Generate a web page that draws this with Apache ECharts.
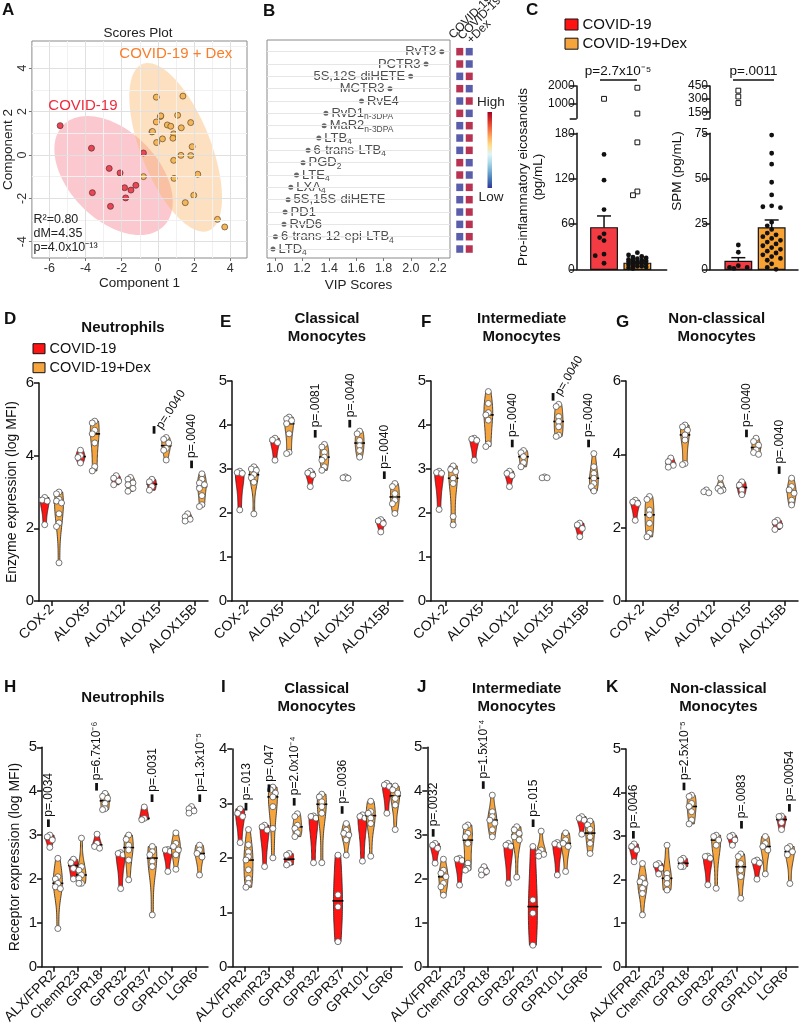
<!DOCTYPE html>
<html>
<head>
<meta charset="utf-8">
<title>Eicosanoid and SPM profiles</title>
<script src="https://cdn.jsdelivr.net/npm/echarts@6.0.0/dist/echarts.min.js"></script>
<style>
  html, body { margin: 0; padding: 0; background: #fff; }
  #chart { width: 800px; height: 1034px; }
</style>
</head>
<body>
<div id="chart"></div>
<script>
// ---------- A: PLS-DA scores ----------
const scoresCovid = [[-5.40, 1.35], [-3.67, 0.31], [-3.62, -1.74], [-2.69, -0.62], [-2.62, -2.37], [-2.09, -0.83],
  [-1.84, -1.51], [-1.78, -1.98], [-1.49, -1.62], [-1.22, -1.40], [-0.80, 0.09]];
const scoresDex = [[-0.80, -1.00], [-0.09, 2.66], [0.14, 1.77], [0.16, 1.80], [-0.09, 1.52], [-0.33, 1.06], [-0.30, 1.08],
  [-0.07, 0.57], [0.25, 0.74], [0.52, 1.38], [0.71, 1.32], [0.87, 0.97], [0.83, 0.77], [1.09, 1.83], [1.38, 2.71],
  [1.29, 1.25], [1.81, 1.49], [1.89, 0.38], [1.81, -0.03], [1.27, -0.02], [0.87, -0.25], [0.89, -1.08], [2.20, -0.89],
  [1.98, -1.86], [1.51, -2.20], [3.29, -2.97], [3.69, -3.32]];
// centre x, centre y, first half-axis (x, y), second half-axis (x, y)
const ellipseCovid = [-2.45, -0.95, 3.27, -1.21, 0, 2.46];
const ellipseDex = [0.98, 0.35, 2.56, -2.33, 0, 3.11];
const scoreTicksX = [-6, -4, -2, 0, 2, 4];
const scoreTicksY = [-4, -2, 0, 2, 4];
const scoreMinorX = [-5, -3, -1, 1, 3];
const scoreMinorY = [-3, -1, 1, 3, 5];

// ---------- B: VIP scores ----------
const vipNames = ['RvT3', 'PCTR3', '5S,12S-diHETE', 'MCTR3', 'RvE4', 'RvD1', 'MaR2', 'LTB', '6-trans-LTB', 'PGD',
  'LTE', 'LXA', '5S,15S-diHETE', 'PD1', 'RvD6', '6-trans-12-epi-LTB', 'LTD'];
const vipSubs = ['', '', '', '', '', 'n-3DPA', 'n-3DPA', '4', '4', '2', '4', '4', '', '', '', '4', '4'];
const vipScores = [2.228, 2.112, 1.999, 1.847, 1.638, 1.376, 1.363, 1.324, 1.245, 1.208, 1.160, 1.118, 1.098, 1.076,
  1.068, 1.005, 0.987];
const vipTicks = [1.0, 1.2, 1.4, 1.6, 1.8, 2.0, 2.2];
const heatGroups = ['COVID-19', 'COVID-19+Dex'];
// relative level per mediator: [COVID-19, COVID-19+Dex]
const vipHeat = [[1, 0], [1, 0], [0, 1], [1, 0], [0, 1], [1, 0], [0, 1], [0, 1], [0, 1], [1, 0], [1, 0], [0, 1], [0, 1],
  [0, 1], [0, 1], [0, 1], [0, 1]];

// ---------- C: plasma mediators ----------
const proMean = [55, 8];
const proSem = [15.6, 1.6];
const proCovidDots = [152, 118, 79, 47, 42, 38, 20, 18, 8];
const proDexDots = [22, 19, 17, 16, 15, 14, 13, 12, 12, 11, 10, 10, 9, 8, 7, 7, 6, 5, 4, 4, 3, 2, 1];
const proCovidOut = [1266];
const proDexOut = [1900, 422, 168, 103, 98];
const spmMean = [4.4, 22.8];
const spmSem = [2.0, 4.4];
const spmCovidDots = [13.4, 9.4, 2, 1, 1, 0.5];
const spmDexDots = [74, 64, 58, 48, 41, 35, 34.5, 34, 26, 24, 22, 20, 19, 18, 17, 16, 15, 14, 13, 12, 11, 10, 9, 8, 7,
  6, 5, 3, 1, 0];
const spmCovidOut = [397, 329, 255];
const spmDexOut = [];

// ---------- D-G: enzymes ----------
const enzymeCats = ['COX-2', 'ALOX5', 'ALOX12', 'ALOX15', 'ALOX15B'];
const neuEnzCovid = [[2.85, 2.78, 2.75, 2.1], [4.15, 4.0, 3.95, 3.8], [3.45, 3.38, 3.3, 3.2], [3.35, 3.28, 3.15, 3.05], [2.4, 2.32, 2.25, 2.2]];
const neuEnzDex = [[3.0, 2.95, 2.8, 2.75, 2.7, 2.4, 2.15, 2.05, 1.05], [4.95, 4.9, 4.7, 4.6, 4.35, 3.7, 3.58],
  [3.4, 3.35, 3.25, 3.2, 3.1, 3.02], [4.5, 4.45, 4.35, 4.2, 4.15, 3.88], [3.5, 3.35, 3.25, 3.2, 3.1, 2.9, 2.65, 2.6]];
const neuEnzP = ['p=.0040', 'p=.0040'];
const claEnzCovid = [[2.95, 2.92, 2.9, 2.07], [3.7, 3.66, 3.6, 3.2], [2.95, 2.91, 2.86, 2.6], [2.82, 2.8, 2.79], [1.85, 1.82, 1.76, 1.57]];
const claEnzDex = [[3.05, 3.0, 2.97, 2.87, 2.8, 2.7, 1.98], [4.18, 4.14, 4.1, 4.03, 3.8, 3.38, 3.35],
  [3.56, 3.5, 3.38, 3.27, 3.2, 3.05, 2.97], [3.86, 3.8, 3.65, 3.53, 3.42, 3.27], [2.67, 2.6, 2.44, 2.29, 2.21, 1.99]];
const claEnzP = ['p=.0081', 'p=.0040', 'p=.0040'];
const intEnzCovid = [[2.95, 2.92, 2.9, 2.08], [3.7, 3.68, 3.65, 3.2], [2.95, 2.9, 2.85, 2.6], [2.82, 2.8, 2.8], [1.77, 1.73, 1.65, 1.46]];
const intEnzDex = [[3.07, 2.99, 2.94, 2.79, 2.67, 1.92, 1.73], [4.76, 4.49, 4.28, 4.23, 4.11, 3.57, 3.51],
  [3.42, 3.37, 3.28, 3.14, 3.05], [4.47, 4.42, 4.19, 4.08, 3.96, 3.77, 3.74], [3.35, 3.05, 2.9, 2.79, 2.67, 2.6, 2.5]];
const intEnzP = ['p=.0040', 'p=.0040', 'p=.0040'];
const nclEnzCovid = [[2.75, 2.7, 2.66, 2.2], [3.9, 3.8, 3.7, 3.65], [3.03, 2.98, 2.95], [3.25, 3.16, 3.03, 2.9], [2.2, 2.15, 2.05, 1.95]];
const nclEnzDex = [[2.85, 2.77, 2.48, 2.35, 2.12, 1.85, 1.75], [4.8, 4.75, 4.66, 4.53, 4.39, 3.75, 3.72],
  [3.35, 3.16, 3.07, 3.03, 3.0], [4.44, 4.35, 4.25, 4.12, 4.05, 4.0], [3.35, 3.12, 3.03, 2.94, 2.75, 2.62]];
const nclEnzP = ['p=.0040', 'p=.0040'];

// ---------- H-K: receptors ----------
const receptorCats = ['ALX/FPR2', 'ChemR23', 'GPR18', 'GPR32', 'GPR37', 'GPR101', 'LGR6'];
const neuRecCovid = [[3.0, 2.96, 2.89, 2.72], [2.45, 2.37, 2.24, 2.0], [3.02, 2.81, 2.74, 2.7], [2.6, 2.58, 2.55, 1.78],
  [3.64, 3.38, 3.35], [2.67, 2.66, 2.63, 2.17], [3.65, 3.6, 3.55, 3.5]];
const neuRecDex = [[2.47, 2.05, 2.0, 1.9, 1.82, 1.78, 0.87], [2.93, 2.28, 2.2, 2.09, 2.01, 1.9, 1.9], [3.95, 3.88, 3.84, 3.72, 3.6, 3.58],
  [3.0, 2.9, 2.77, 2.66, 2.43, 1.98], [2.74, 2.62, 2.55, 2.4, 2.28, 1.18], [3.05, 2.81, 2.74, 2.66, 2.55, 2.22], [2.77, 2.66, 2.58, 2.5, 2.09]];
const neuRecP = ['p=.0034', 'p=6.7x10⁻⁶', 'p=.0031', 'p=1.3x10⁻⁵'];
const claRecCovid = [[2.9, 2.82, 2.76, 2.28], [2.6, 2.57, 2.51, 1.84], [2.08, 2.05, 1.9, 1.87], [2.77, 2.76, 2.73, 1.91],
  [2.05, 1.32, 1.1, 0.46], [2.79, 2.76, 2.73, 1.94], [3.37, 3.34, 3.31, 2.82]];
const claRecDex = [[2.52, 2.24, 2.11, 2.02, 1.96, 1.78, 1.62, 1.53, 1.46], [3.3, 3.25, 3.19, 3.12, 2.94, 2.54, 2.0],
  [2.81, 2.76, 2.6, 2.54, 2.46, 2.39], [3.17, 3.12, 3.03, 2.94, 2.82, 1.91], [2.63, 2.51, 2.45, 2.42, 2.33, 2.05],
  [3.04, 2.85, 2.82, 2.73, 2.63, 2.03], [3.32, 3.25, 3.19, 3.09, 2.97, 2.52]];
const claRecP = ['p=.013', 'p=.047', 'p=2.0x10⁻⁴', 'p=.0036'];
const intRecCovid = [[2.81, 2.77, 2.7, 2.36], [2.47, 2.45, 2.42, 1.86], [2.28, 2.2, 2.17, 2.09], [2.81, 2.77, 2.74, 1.9],
  [2.74, 1.52, 1.22, 0.49], [2.83, 2.8, 2.77, 2.09], [3.42, 3.38, 3.34, 3.02]];
const intRecDex = [[2.45, 2.2, 2.13, 2.05, 1.9, 1.82, 1.63], [3.23, 3.19, 3.04, 2.96, 2.81, 2.36, 2.24, 2.2],
  [3.91, 3.53, 3.42, 3.34, 3.27, 3.12, 2.96], [3.19, 3.12, 3.04, 2.96, 2.89, 2.04], [3.09, 2.66, 2.6, 2.56, 2.52],
  [3.05, 2.89, 2.81, 2.74, 2.17], [3.32, 3.23, 3.13, 2.96, 2.81, 2.58]];
const intRecP = ['p=.0032', 'p=1.5x10⁻⁴', 'p=.015'];
const nclRecCovid = [[2.82, 2.76, 2.68, 2.41], [2.37, 2.34, 2.26, 2.13], [2.49, 2.45, 2.3, 2.3], [2.54, 2.53, 2.49, 1.88],
  [3.02, 2.99, 2.91, 2.79], [2.45, 2.42, 2.38, 2.01], [3.46, 3.45, 3.31, 3.15]];
const nclRecDex = [[2.37, 2.03, 1.95, 1.91, 1.8, 1.68, 1.19], [2.79, 2.14, 2.03, 1.91, 1.76], [3.94, 3.91, 3.75, 3.68, 3.56, 3.37, 3.28],
  [3.02, 2.99, 2.91, 2.79, 1.8], [2.59, 2.53, 2.37, 2.22, 2.07, 1.57], [2.99, 2.83, 2.76, 2.68, 2.13], [2.76, 2.72, 2.64, 2.57, 1.91]];
const nclRecP = ['p=.0046', 'p=2.5x10⁻⁵', 'p=.0083', 'p=.00054'];

// ---------- styles / layout ----------
const FONT = "'Liberation Sans', Arial, Helvetica, sans-serif";
const VRED = '#ff1414';
const VORG = '#f6a43e';
const CRED = '#f23b42';
const CORG = '#f9a234';
const INK = '#111';
const HEAT = ['#313695', '#4575b4', '#74add1', '#abd9e9', '#e0f3f8', '#fee090', '#fdae61', '#f46d43', '#d73027', '#a50026'];

// violin panels: layout only; p-value marks are [x, y, rotation]
const violinPanels = [
  {grid: {left: 39, top: 383, width: 169, height: 218}, xMin: -0.36, xMax: 4.37, yMax: 6, yStep: 2, cats: enzymeCats,
    covid: neuEnzCovid, dex: neuEnzDex, pText: neuEnzP, pPos: [[2.86, 4.71, 57], [3.91, 3.76, 90]], off: 0.2, halfW: 4.4,
    yName: 'Enzyme expression (log MFI)'},
  {grid: {left: 232, top: 381, width: 171, height: 220}, xMin: -0.42, xMax: 4.43, yMax: 5, yStep: 1, cats: enzymeCats,
    covid: claEnzCovid, dex: claEnzDex, pText: claEnzP, pPos: [[1.94, 3.8, 90], [2.92, 4.03, 90], [3.9, 2.86, 90]], off: 0.2, halfW: 4.4},
  {grid: {left: 431, top: 381, width: 172, height: 220}, xMin: -0.43, xMax: 4.46, yMax: 5, yStep: 1, cats: enzymeCats,
    covid: intEnzCovid, dex: intEnzDex, pText: intEnzP, pPos: [[1.88, 3.58, 90], [3.04, 4.64, 60], [4.05, 3.58, 90]], off: 0.2, halfW: 4.4},
  {grid: {left: 626, top: 381, width: 172, height: 220}, xMin: -0.46, xMax: 4.38, yMax: 6, yStep: 2, cats: enzymeCats,
    covid: nclEnzCovid, dex: nclEnzDex, pText: nclEnzP, pPos: [[2.93, 4.57, 90], [3.85, 3.57, 90]], off: 0.2, halfW: 4.4},
  {grid: {left: 36, top: 747.3, width: 172, height: 219.4}, xMin: -0.5, xMax: 6.53, yMax: 5, yStep: 1, cats: receptorCats,
    covid: neuRecCovid, dex: neuRecDex, pText: neuRecP, pPos: [[-0.23, 3.27, 90], [1.81, 4.1, 90], [4.16, 3.84, 90], [6.18, 3.84, 90]],
    off: 0.17, halfW: 4.5, yName: 'Receptor expression (log MFI)'},
  {grid: {left: 232.3, top: 749, width: 170, height: 217.7}, xMin: -0.49, xMax: 6.46, yMax: 4, yStep: 1, cats: receptorCats,
    covid: claRecCovid, dex: claRecDex, pText: claRecP, pPos: [[0.07, 2.94, 90], [1.01, 3.28, 90], [2.04, 3.03, 90], [4.0, 2.88, 90]],
    off: 0.17, halfW: 4.5},
  {grid: {left: 427.3, top: 747.3, width: 174, height: 219.4}, xMin: -0.49, xMax: 6.63, yMax: 5, yStep: 1, cats: receptorCats,
    covid: intRecCovid, dex: intRecDex, pText: intRecP, pPos: [[-0.25, 3.05, 90], [1.8, 4.14, 90], [3.84, 3.27, 90]],
    off: 0.17, halfW: 4.5},
  {grid: {left: 626, top: 749, width: 172, height: 217.7}, xMin: -0.5, xMax: 6.5, yMax: 5, yStep: 1, cats: receptorCats,
    covid: nclRecCovid, dex: nclRecDex, pText: nclRecP, pPos: [[-0.2, 3.03, 90], [1.86, 4.14, 90], [4.2, 3.26, 90], [6.15, 3.65, 90]],
    off: 0.17, halfW: 4.5}
];

// ---------- helpers ----------
function density(vals) {
  const n = vals.length;
  const mean = vals.reduce((a, b) => a + b, 0) / n;
  const sd = Math.sqrt(vals.reduce((a, b) => a + (b - mean) * (b - mean), 0) / Math.max(n - 1, 1));
  const h = Math.max(1.06 * sd * Math.pow(n, -0.2), 0.03);
  const lo = Math.min(...vals), hi = Math.max(...vals);
  const out = [];
  for (let i = 0; i <= 40; i++) {
    const y = lo + (hi - lo) * i / 40;
    let d = 0;
    vals.forEach(v => { d += Math.exp(-0.5 * ((y - v) / h) * ((y - v) / h)); });
    out.push([y, d]);
  }
  const mx = Math.max(...out.map(o => o[1]));
  return out.map(o => [o[0], o[1] / mx]);
}

function median(vals) {
  const s = vals.slice().sort((a, b) => a - b);
  const m = Math.floor(s.length / 2);
  return s.length % 2 ? s[m] : (s[m - 1] + s[m]) / 2;
}

// simple beeswarm: horizontal pixel offsets so points do not pile up
function swarm(ys, minD, step, maxOff) {
  const order = ys.map((_, i) => i).sort((a, b) => ys[a] - ys[b]);
  const placed = [];
  const offs = new Array(ys.length).fill(0);
  order.forEach(i => {
    let best = 0, bestD = -1;
    for (let k = 0; k < 60; k++) {
      const cand = k === 0 ? 0 : (k % 2 ? -1 : 1) * Math.ceil(k / 2) * step;
      if (Math.abs(cand) > maxOff) break;
      const d = placed.length ? Math.min(...placed.map(p => Math.hypot(p[0] - cand, p[1] - ys[i]))) : Infinity;
      if (d >= minD) { best = cand; bestD = d; break; }
      if (d > bestD) { bestD = d; best = cand; }
    }
    offs[i] = best;
    placed.push([best, ys[i]]);
  });
  return offs;
}

function txt(x, y, text, size, opts) {
  const o = opts || {};
  return {
    type: 'text', x: x, y: y, rotation: o.rotation || 0, silent: true, z: 100,
    style: {
      text: text, fill: o.color || INK, fontSize: size, fontFamily: FONT, fontWeight: o.bold ? 'bold' : 'normal',
      align: o.align || 'left', verticalAlign: o.va || 'middle', textAlign: o.align || 'left',
      textVerticalAlign: o.va || 'middle', lineHeight: o.lineHeight || size * 1.2
    }
  };
}

const grids = [], xAxes = [], yAxes = [], series = [], graphics = [];

function plainAxis(extra) {
  return Object.assign({
    axisLine: {show: true, onZero: false, lineStyle: {color: INK, width: 1.5}},
    axisTick: {show: true, length: 5, lineStyle: {color: INK, width: 1.5}},
    axisLabel: {fontSize: 15, color: INK, margin: 5},
    splitLine: {show: false}
  }, extra);
}

// ---------- A ----------
grids.push({left: 29, top: 41, width: 218, height: 217, show: true, borderColor: '#8a8a8a', borderWidth: 1});
xAxes.push({gridIndex: 0, type: 'value', min: -6.96, max: 4.92, name: 'Component 1', nameLocation: 'middle', nameGap: 18,
  nameTextStyle: {fontSize: 13.5, color: '#222'},
  axisLine: {show: false, onZero: false},
  axisTick: {show: true, customValues: scoreTicksX, length: 3, lineStyle: {color: '#777'}},
  axisLabel: {customValues: scoreTicksX, fontSize: 12.5, color: '#333', margin: 4},
  splitLine: {show: false}});
yAxes.push({gridIndex: 0, type: 'value', min: -4.75, max: 5.25, name: 'Component 2', nameLocation: 'middle', nameGap: 12,
  nameTextStyle: {fontSize: 13.5, color: '#222'},
  axisLine: {show: false, onZero: false},
  axisTick: {show: true, customValues: scoreTicksY, length: 3, lineStyle: {color: '#777'}},
  axisLabel: {customValues: scoreTicksY, fontSize: 12.5, color: '#333', margin: 3, rotate: 90},
  splitLine: {show: false}});
const gridLineStyle = {silent: true, symbol: ['none', 'none'], label: {show: false}, animation: false};
series.push({type: 'scatter', xAxisIndex: 0, yAxisIndex: 0, data: [], z: 1,
  markLine: Object.assign({lineStyle: {color: '#f1f1f1', width: 1, type: 'solid'},
    data: scoreMinorX.map(v => ({xAxis: v})).concat(scoreMinorY.map(v => ({yAxis: v})))}, gridLineStyle)});
series.push({type: 'scatter', xAxisIndex: 0, yAxisIndex: 0, data: [], z: 1,
  markLine: Object.assign({lineStyle: {color: '#e0e0e0', width: 1, type: 'solid'},
    data: scoreTicksX.map(v => ({xAxis: v})).concat(scoreTicksY.map(v => ({yAxis: v})))}, gridLineStyle)});
series.push({type: 'custom', xAxisIndex: 0, yAxisIndex: 0, z: 2, silent: true,
  data: [[ellipseCovid[0], ellipseCovid[1]], [ellipseDex[0], ellipseDex[1]]],
  renderItem: function (params, api) {
    const e = params.dataIndex === 0 ? ellipseCovid : ellipseDex;
    const pts = [];
    for (let k = 0; k < 96; k++) {
      const t = k / 96 * 2 * Math.PI;
      pts.push(api.coord([e[0] + e[2] * Math.cos(t) + e[4] * Math.sin(t), e[1] + e[3] * Math.cos(t) + e[5] * Math.sin(t)]));
    }
    return {type: 'polygon', shape: {points: pts},
      style: {fill: params.dataIndex === 0 ? 'rgba(240,95,110,0.34)' : 'rgba(250,180,105,0.42)'}};
  }});
series.push({type: 'scatter', xAxisIndex: 0, yAxisIndex: 0, z: 3, data: scoresCovid, symbolSize: 6,
  itemStyle: {color: '#ea4656', borderColor: '#5a2a2a', borderWidth: 0.7, opacity: 1}});
series.push({type: 'scatter', xAxisIndex: 0, yAxisIndex: 0, z: 3, data: scoresDex, symbolSize: 6,
  itemStyle: {color: '#f5b65a', borderColor: '#5e4a2a', borderWidth: 0.7, opacity: 1}});

// ---------- B ----------
grids.push({left: 267, top: 40, width: 183, height: 218, show: true, borderColor: '#8a8a8a', borderWidth: 1});
xAxes.push({gridIndex: 1, type: 'value', min: 0.943, max: 2.288, name: 'VIP Scores', nameLocation: 'middle', nameGap: 20,
  nameTextStyle: {fontSize: 13.5, color: '#222'},
  axisLine: {show: false, onZero: false},
  axisTick: {show: true, customValues: vipTicks, length: 3, lineStyle: {color: '#777'}},
  axisLabel: {customValues: vipTicks, fontSize: 12.5, color: '#333', margin: 4, formatter: v => v.toFixed(1)},
  splitLine: {show: false}});
yAxes.push({gridIndex: 1, type: 'value', min: -0.95, max: 16.73, inverse: true, show: false, axisLine: {onZero: false}});
series.push({type: 'scatter', xAxisIndex: 1, yAxisIndex: 1, data: [], z: 1,
  markLine: Object.assign({lineStyle: {color: '#e6e6e6', width: 1, type: 'solid'},
    data: vipNames.map((_, i) => ({yAxis: i}))}, gridLineStyle)});
const vipLabelRich = {n: {fontSize: 13, color: '#222', fontFamily: FONT},
  s: {fontSize: 8.5, color: '#222', fontFamily: FONT, padding: [7, 0, 0, 0]}};
series.push({type: 'scatter', xAxisIndex: 1, yAxisIndex: 1, z: 3, symbolSize: 5,
  data: vipScores.map((v, i) => ({value: [v, i], label: {position: i < 4 ? 'left' : 'right'}})),
  itemStyle: {color: '#444'},
  label: {show: true, distance: 3, color: '#222',
    formatter: p => '{n|' + vipNames[p.dataIndex] + '}' + (vipSubs[p.dataIndex] ? '{s|' + vipSubs[p.dataIndex] + '}' : ''),
    rich: vipLabelRich}});

grids.push({left: 455, top: 45.5, width: 19, height: 209.7});
xAxes.push({gridIndex: 2, type: 'category', data: heatGroups, show: false});
yAxes.push({gridIndex: 2, type: 'category', data: vipNames, inverse: true, show: false});
const heatSeriesIndex = series.length;
const heatData = [];
vipHeat.forEach((row, r) => row.forEach((v, c) => heatData.push([c, r, v])));
series.push({type: 'scatter', xAxisIndex: 2, yAxisIndex: 2, symbol: 'rect', symbolSize: [7, 7.5], data: heatData, z: 3});

// ---------- C ----------
function cAxes(gi, left, top, width, height, xMin, xMax, yMin, yMax, yInterval, tickVals, labelVals, showX) {
  grids.push({left: left, top: top, width: width, height: height});
  xAxes.push({gridIndex: gi, type: 'value', min: xMin, max: xMax,
    axisLine: {show: showX, onZero: false, lineStyle: {color: INK, width: 1.5}},
    axisTick: {show: false}, axisLabel: {show: false}, splitLine: {show: false}});
  const y = {gridIndex: gi, type: 'value', min: yMin, max: yMax,
    axisLine: {show: true, onZero: false, lineStyle: {color: INK, width: 1.5}},
    axisTick: {show: true, length: 7, lineStyle: {color: INK, width: 1.5}},
    axisLabel: {fontSize: 12, color: INK, margin: 2, formatter: v => String(v)},
    splitLine: {show: false}};
  if (yInterval) y.interval = yInterval;
  if (tickVals) { y.axisTick.customValues = tickVals; y.axisLabel.customValues = labelVals; }
  yAxes.push(y);
}
cAxes(3, 576.7, 86, 90, 32.3, 0.18, 2.88, 150, 2000, null, [150, 1000, 2000], [1000, 2000], false);
cAxes(4, 576.7, 133.3, 90, 136, 0.18, 2.88, 0, 180, 60, null, null, true);
cAxes(5, 710, 86, 88, 32.3, 0.15, 2.79, 80, 450, null, [80, 150, 300, 450], [150, 300, 450], false);
cAxes(6, 710, 133.3, 88, 136, 0.15, 2.79, 0, 75, 25, null, null, true);

function cBarSeries(gi, means, sems) {
  series.push({type: 'custom', xAxisIndex: gi, yAxisIndex: gi, z: 2, silent: true,
    data: means.map((m, i) => [i + 1, m, sems[i]]),
    renderItem: function (params, api) {
      const x = api.value(0), m = api.value(1), s = api.value(2);
      const p0 = api.coord([x - 0.4, m]), p1 = api.coord([x + 0.4, 0]);
      const top = api.coord([x, m + s]);
      const xc = (p0[0] + p1[0]) / 2;
      return {type: 'group', children: [
        {type: 'rect', shape: {x: p0[0], y: p0[1], width: p1[0] - p0[0], height: p1[1] - p0[1]},
          style: {fill: params.dataIndex === 0 ? CRED : CORG, stroke: INK, lineWidth: 1.2}},
        {type: 'line', shape: {x1: xc, y1: p0[1], x2: xc, y2: top[1]}, style: {stroke: INK, lineWidth: 1.5}},
        {type: 'line', shape: {x1: xc - 7, y1: top[1], x2: xc + 7, y2: top[1]}, style: {stroke: INK, lineWidth: 1.5}}
      ]};
    }});
}
function cDotSeries(gi, dotLists, squareLists, yMin, yMax) {
  series.push({type: 'custom', xAxisIndex: gi, yAxisIndex: gi, z: 4, silent: true,
    data: dotLists.map((_, i) => [i + 1, 0]),
    renderItem: function (params, api) {
      const x = api.value(0);
      const dots = dotLists[params.dataIndex].filter(v => v >= yMin && v <= yMax);
      const sq = squareLists[params.dataIndex].filter(v => v >= yMin && v <= yMax);
      const xc = api.coord([x, 0])[0];
      const children = [];
      const all = dots.concat(sq);
      const ys = all.map(v => api.coord([x, v])[1]);
      const offs = swarm(ys, 5.2, 4.4, 13);
      all.forEach((v, i) => {
        if (i < dots.length) {
          children.push({type: 'circle', shape: {cx: xc + offs[i], cy: ys[i], r: 2.4}, style: {fill: INK}});
        } else {
          children.push({type: 'rect', shape: {x: xc + offs[i] - 2.4, y: ys[i] - 2.4, width: 4.8, height: 4.8},
            style: {fill: '#fff', stroke: INK, lineWidth: 1}});
        }
      });
      return {type: 'group', children: children};
    }});
}
cBarSeries(4, proMean, proSem);
cDotSeries(4, [proCovidDots, proDexDots], [[], proDexOut], 0, 180);
cDotSeries(3, [[], []], [proCovidOut, proDexOut], 180.01, 2000);
cBarSeries(6, spmMean, spmSem);
cDotSeries(6, [spmCovidDots, spmDexDots], [[], spmDexOut], 0, 75);
cDotSeries(5, [[], []], [spmCovidOut, spmDexOut], 75.01, 450);

// ---------- D-K violins ----------
violinPanels.forEach(vp => {
  const gi = grids.length;
  grids.push(vp.grid);
  const idx = vp.cats.map((_, i) => i);
  xAxes.push(plainAxis({gridIndex: gi, type: 'value', min: vp.xMin, max: vp.xMax,
    axisTick: {show: true, customValues: idx, length: 5, lineStyle: {color: INK, width: 1.5}},
    axisLabel: {customValues: idx, formatter: v => vp.cats[v], rotate: 45, fontSize: 14, color: INK, margin: 6}}));
  const y = plainAxis({gridIndex: gi, type: 'value', min: 0, max: vp.yMax, interval: vp.yStep});
  if (vp.yName) {
    y.name = vp.yName; y.nameLocation = 'middle'; y.nameGap = 20;
    y.nameTextStyle = {fontSize: 14, color: INK};
  }
  yAxes.push(y);
  const items = [];
  vp.cats.forEach((_, i) => { items.push([i, 0, median(vp.covid[i])]); items.push([i, 1, median(vp.dex[i])]); });
  series.push({type: 'custom', xAxisIndex: gi, yAxisIndex: gi, z: 3, silent: true, data: items, encode: {x: 0, y: 2},
    renderItem: function (params, api) {
      const cat = api.value(0), side = api.value(1);
      const vals = (side === 0 ? vp.covid : vp.dex)[cat];
      const xc = cat + (side === 0 ? -vp.off : vp.off);
      const dens = density(vals);
      const leftPts = [], rightPts = [];
      dens.forEach(d => {
        const p = api.coord([xc, d[0]]);
        leftPts.push([p[0] - vp.halfW * d[1], p[1]]);
        rightPts.push([p[0] + vp.halfW * d[1], p[1]]);
      });
      const children = [{type: 'polygon', shape: {points: leftPts.concat(rightPts.reverse())},
        style: {fill: side === 0 ? VRED : VORG, stroke: '#222', lineWidth: 0.8}}];
      const med = median(vals);
      const pm = api.coord([xc, med]);
      let dm = 0;
      dens.forEach(d => { if (dm === 0 && d[0] >= med - 1e-9) dm = d[1]; });
      const w = vp.halfW * dm + 1;
      children.push({type: 'line', shape: {x1: pm[0] - w, y1: pm[1], x2: pm[0] + w, y2: pm[1]}, style: {stroke: '#000', lineWidth: 1.6}});
      const ys = vals.map(v => api.coord([xc, v])[1]);
      const offs = swarm(ys, 4.5, 2.5, 4);
      ys.forEach((yy, i) => children.push({type: 'circle', shape: {cx: pm[0] + offs[i], cy: yy, r: 3},
        style: {fill: '#fff', stroke: '#555', lineWidth: 0.8}}));
      return {type: 'group', children: children};
    }});
  series.push({type: 'custom', xAxisIndex: gi, yAxisIndex: gi, z: 5, silent: true,
    data: vp.pPos.map((p, i) => [p[0], p[1], p[2], i]),
    renderItem: function (params, api) {
      const p = api.coord([api.value(0), api.value(1)]);
      const rot = api.value(2);
      const vertical = rot === 90;
      return {type: 'group', children: [
        {type: 'rect', shape: {x: p[0] - 1.4, y: p[1] - 3.8, width: 2.8, height: 7.6}, style: {fill: INK}},
        {type: 'text', x: vertical ? p[0] + 0.5 : p[0] + 5, y: vertical ? p[1] - 6.5 : p[1] - 2, rotation: rot * Math.PI / 180,
          style: {text: vp.pText[api.value(3)], x: 0, y: 0, fill: INK, fontSize: 12, fontFamily: FONT, align: 'left', verticalAlign: 'middle'}}
      ]};
    }});
});

// ---------- free text ----------
[['A', 2, 10], ['B', 263, 11], ['C', 526, 10.5], ['D', 4, 319], ['E', 220, 322.5], ['F', 421, 322.5], ['G', 616, 322.5],
  ['H', 4, 687], ['I', 221, 687], ['J', 417, 687], ['K', 606, 687]].forEach(l => graphics.push(txt(l[1], l[2], l[0], 17, {bold: true})));
[['Neutrophils', 123, 328], ['Classical\nMonocytes', 327, 328], ['Intermediate\nMonocytes', 521.7, 328],
  ['Non-classical\nMonocytes', 716.7, 328], ['Neutrophils', 123, 698], ['Classical\nMonocytes', 316.7, 698],
  ['Intermediate\nMonocytes', 516.7, 698], ['Non-classical\nMonocytes', 718.3, 698]]
  .forEach(t => graphics.push(txt(t[1], t[2], t[0], 15, {bold: true, align: 'center', lineHeight: 18})));

graphics.push(txt(138, 33.5, 'Scores Plot', 13.5, {align: 'center', color: '#222'}));
graphics.push(txt(119.3, 54, 'COVID-19 + Dex', 15, {color: '#fb7d2a'}));
graphics.push(txt(48.3, 106, 'COVID-19', 15, {color: '#ef2b3c'}));
graphics.push(txt(33.5, 220, 'R²=0.80', 12.5, {color: '#222'}));
graphics.push(txt(33.5, 234, 'dM=4.35', 12.5, {color: '#222'}));
graphics.push(txt(33.5, 248, 'p=4.0x10⁻¹³', 12.5, {color: '#222'}));

// heat map column headers and colour bar
graphics.push(txt(456, 42, heatGroups[0], 12, {rotation: Math.PI / 4, va: 'bottom', color: '#222'}));
graphics.push(txt(465, 43, 'COVID-19', 12, {rotation: Math.PI / 4, va: 'bottom', color: '#222'}));
graphics.push(txt(474, 47, '+Dex', 12, {rotation: Math.PI / 4, va: 'bottom', color: '#222'}));
graphics.push({type: 'rect', shape: {x: 487.5, y: 112, width: 4.5, height: 76}, z: 100, silent: true,
  style: {fill: new echarts.graphic.LinearGradient(0, 0, 0, 1,
    HEAT.slice().reverse().map((c, i, arr) => ({offset: i / (arr.length - 1), color: c})))}});
graphics.push(txt(491, 102, 'High', 13.5, {align: 'center', color: '#222'}));
graphics.push(txt(491, 197.5, 'Low', 13.5, {align: 'center', color: '#222'}));

function legendBlock(x, y1, y2, w, h, size) {
  graphics.push({type: 'rect', shape: {x: x, y: y1 - h / 2, width: w, height: h}, style: {fill: VRED, stroke: INK, lineWidth: 1}, z: 100});
  graphics.push({type: 'rect', shape: {x: x, y: y2 - h / 2, width: w, height: h}, style: {fill: VORG, stroke: INK, lineWidth: 1}, z: 100});
  graphics.push(txt(x + w + 4.5, y1, 'COVID-19', size));
  graphics.push(txt(x + w + 4.5, y2, 'COVID-19+Dex', size));
}
legendBlock(565, 24.5, 43.7, 13, 11, 15);
legendBlock(33, 348.7, 367.7, 12, 10, 14.5);

graphics.push(txt(523, 177, 'Pro-inflammatory eicosanoids', 13.5, {align: 'center', rotation: Math.PI / 2}));
graphics.push(txt(538.5, 177, '(pg/mL)', 13.5, {align: 'center', rotation: Math.PI / 2}));
graphics.push(txt(677, 171, 'SPM (pg/mL)', 13.5, {align: 'center', rotation: Math.PI / 2}));
graphics.push({type: 'line', shape: {x1: 600, y1: 80, x2: 637, y2: 80}, style: {stroke: INK, lineWidth: 1.3}, z: 100});
graphics.push({type: 'line', shape: {x1: 733, y1: 80, x2: 774, y2: 80}, style: {stroke: INK, lineWidth: 1.3}, z: 100});
graphics.push(txt(618, 71, 'p=2.7x10⁻⁵', 13.5, {align: 'center'}));
graphics.push(txt(753.5, 71, 'p=.0011', 13.5, {align: 'center'}));

const chart = echarts.init(document.getElementById('chart'), null, {renderer: 'canvas'});
chart.setOption({
  animation: false,
  backgroundColor: '#fff',
  textStyle: {fontFamily: FONT},
  grid: grids,
  xAxis: xAxes,
  yAxis: yAxes,
  visualMap: [{
    type: 'continuous', show: false, min: 0, max: 1, seriesIndex: heatSeriesIndex, dimension: 2,
    inRange: {color: HEAT}
  }],
  series: series,
  graphic: graphics
});
window.addEventListener('resize', () => chart.resize());
</script>
</body>
</html>
